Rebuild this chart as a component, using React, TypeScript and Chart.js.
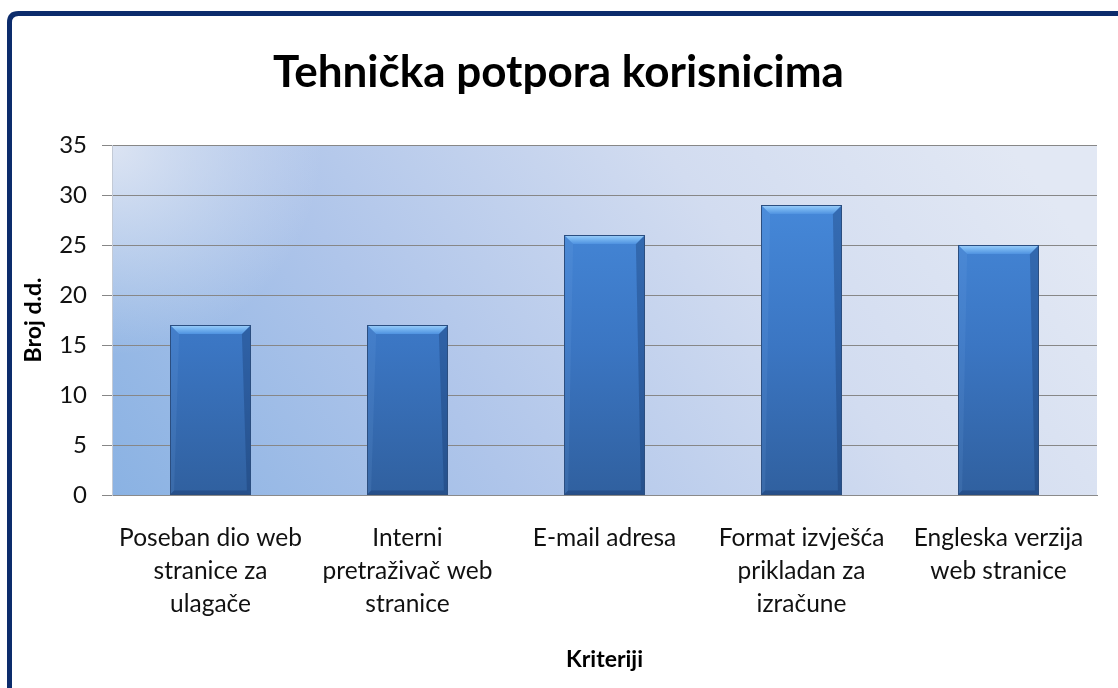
import React, { useEffect, useRef } from "react";
import { Chart, registerables } from "chart.js";

Chart.register(...registerables);

const chartTitle = "Tehnička potpora korisnicima";
const categories: string[][] = [
  ["Poseban dio web", "stranice za", "ulagače"],
  ["Interni", "pretraživač web", "stranice"],
  ["E-mail adresa"],
  ["Format izvješća", "prikladan za", "izračune"],
  ["Engleska verzija", "web stranice"],
];
const values: number[] = [17, 17, 26, 29, 25];
const yTitle = "Broj d.d.";
const xTitle = "Kriteriji";
const yMin = 0;
const yMax = 35;
const yStep = 5;

const FONT = "Lato, 'Open Sans', sans-serif";

const framePlugin = {
  id: "frame",
  beforeDraw(chart: any) {
    const { ctx, chartArea: a } = chart;
    ctx.save();
    ctx.fillStyle = "#ffffff";
    ctx.fillRect(0, 0, chart.width, chart.height);
    // outer navy frame (only top/left visible)
    ctx.strokeStyle = "#0c2c6c";
    ctx.lineWidth = 5;
    const r = 9;
    const x0 = 9.5, y0 = 13.5, x1 = chart.width + 40, y1 = chart.height + 40;
    ctx.beginPath();
    ctx.moveTo(x0 + r, y0);
    ctx.lineTo(x1, y0);
    ctx.lineTo(x1, y1);
    ctx.lineTo(x0, y1);
    ctx.lineTo(x0, y0 + r);
    ctx.quadraticCurveTo(x0, y0, x0 + r, y0);
    ctx.stroke();

    // plot background
    const w = a.right - a.left;
    const h = a.bottom - a.top;
    const lg = ctx.createLinearGradient(a.left, a.bottom, a.left + w * 0.75, a.top - h * 0.6);
    lg.addColorStop(0, "#8ab2e3");
    lg.addColorStop(0.35, "#afc5ea");
    lg.addColorStop(0.7, "#d2dcf0");
    lg.addColorStop(1, "#e2e8f4");
    ctx.fillStyle = lg;
    ctx.fillRect(a.left, a.top, w, h);
    // light corner at top-left
    const rg = ctx.createRadialGradient(a.left, a.top, 0, a.left, a.top, h * 0.6);
    rg.addColorStop(0, "rgba(226,232,244,0.9)");
    rg.addColorStop(1, "rgba(226,232,244,0)");
    ctx.fillStyle = rg;
    ctx.fillRect(a.left, a.top, w, h);
    ctx.restore();
  },
};

const bevelPlugin = {
  id: "bevel",
  afterDatasetsDraw(chart: any) {
    const { ctx } = chart;
    const meta = chart.getDatasetMeta(0);
    ctx.save();
    meta.data.forEach((bar: any) => {
      const x0 = bar.x - bar.width / 2;
      const x1 = bar.x + bar.width / 2;
      const top = bar.y;
      const bottom = bar.base;
      const b = 9;
      const s = 4;
      // left side slightly lighter
      ctx.fillStyle = "rgba(130,180,235,0.12)";
      ctx.beginPath();
      ctx.moveTo(x0, top);
      ctx.lineTo(x0 + b, top + b);
      ctx.lineTo(x0 + s, bottom - s);
      ctx.lineTo(x0, bottom);
      ctx.closePath();
      ctx.fill();
      // right side darker
      ctx.fillStyle = "rgba(20,50,100,0.32)";
      ctx.beginPath();
      ctx.moveTo(x1, top);
      ctx.lineTo(x1 - b, top + b);
      ctx.lineTo(x1 - s, bottom - s);
      ctx.lineTo(x1, bottom);
      ctx.closePath();
      ctx.fill();
      // bottom darker
      ctx.fillStyle = "rgba(20,50,100,0.35)";
      ctx.beginPath();
      ctx.moveTo(x0, bottom);
      ctx.lineTo(x1, bottom);
      ctx.lineTo(x1 - s, bottom - s);
      ctx.lineTo(x0 + s, bottom - s);
      ctx.closePath();
      ctx.fill();
      // top bevel
      const tg = ctx.createLinearGradient(0, top, 0, top + b);
      tg.addColorStop(0, "#a0d0fa");
      tg.addColorStop(0.4, "#7ab8f2");
      tg.addColorStop(1, "#4f92e0");
      ctx.fillStyle = tg;
      ctx.beginPath();
      ctx.moveTo(x0, top);
      ctx.lineTo(x1, top);
      ctx.lineTo(x1 - b, top + b);
      ctx.lineTo(x0 + b, top + b);
      ctx.closePath();
      ctx.fill();
      // outline
      ctx.strokeStyle = "#2b4e80";
      ctx.lineWidth = 1;
      ctx.strokeRect(Math.round(x0) + 0.5, Math.round(top) + 0.5, Math.round(x1 - x0) - 1, Math.round(bottom - top) - 1);
    });
    ctx.restore();
  },
};

export default function App() {
  const ref = useRef<HTMLCanvasElement | null>(null);

  useEffect(() => {
    if (!ref.current) return;
    const chart = new Chart(ref.current, {
      type: "bar",
      data: {
        labels: categories,
        datasets: [
          {
            data: values,
            barPercentage: 0.41,
            categoryPercentage: 1,
            borderWidth: 0,
            backgroundColor: (c: any) => {
              const { chart } = c;
              const a = chart.chartArea;
              if (!a) return "#3a78c8";
              const g = chart.ctx.createLinearGradient(0, a.top + 50, 0, a.bottom);
              g.addColorStop(0, "#4689da");
              g.addColorStop(0.5, "#3b76c3");
              g.addColorStop(1, "#30609f");
              return g;
            },
          },
        ],
      },
      options: {
        responsive: false,
        animation: false,
        layout: { padding: { left: 20, right: 21, top: 0, bottom: 0 } },
        plugins: {
          legend: { display: false },
          tooltip: { enabled: false },
          title: {
            display: true,
            text: chartTitle,
            color: "#000000",
            font: { family: FONT, size: 44, weight: "bold", lineHeight: 1.2 },
            padding: { top: 46, bottom: 46.2 },
          },
        },
        scales: {
          x: {
            grid: { display: false, drawTicks: false },
            border: { display: true, color: "#8a8a8a", width: 1 },
            ticks: {
              color: "#111111",
              font: { family: FONT, size: 24.5, lineHeight: 1.36 },
              padding: 26,
              maxRotation: 0,
              autoSkip: false,
            },
            title: {
              display: true,
              text: xTitle,
              color: "#000000",
              font: { family: FONT, size: 23, weight: "bold", lineHeight: 1.2 },
              padding: { top: 0, bottom: 15 },
            },
            afterFit: (s: any) => {
              s.height = 193;
            },
          },
          y: {
            min: yMin,
            max: yMax,
            ticks: {
              stepSize: yStep,
              color: "#111111",
              font: { family: FONT, size: 24 },
              padding: 15,
            },
            grid: { color: "#878787", lineWidth: 1, tickLength: 10, drawTicks: true },
            border: { display: true, color: "#c3cad6", width: 1 },
            title: {
              display: true,
              text: yTitle,
              color: "#000000",
              font: { family: FONT, size: 23, weight: "bold", lineHeight: 1.2 },
              padding: { top: 0, bottom: 0 },
            },
            afterFit: (s: any) => {
              s.width = 92;
            },
          },
        },
      },
      plugins: [framePlugin, bevelPlugin],
    });
    return () => chart.destroy();
  }, []);

  return (
    <div style={{ position: "absolute", left: 0, top: 0, width: 1118, height: 688 }}>
      <canvas ref={ref} width={1118} height={688} style={{ display: "block" }} />
    </div>
  );
}
